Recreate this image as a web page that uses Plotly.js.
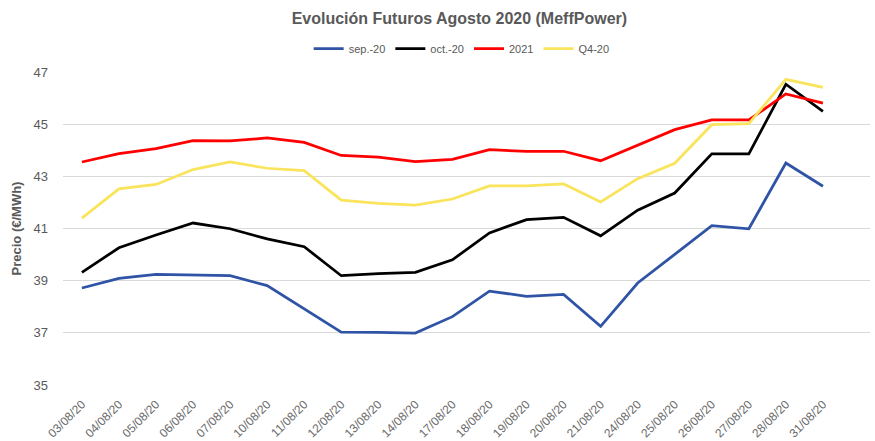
<!DOCTYPE html>
<html>
<head>
<meta charset="utf-8">
<script src="https://cdn.plot.ly/plotly-3.0.1.min.js"></script>
<style>html,body{margin:0;padding:0;background:#fff}#chart{width:875px;height:441px}</style>
</head>
<body>
<div id="chart"></div>
<script>
const fechas = ["03/08/20","04/08/20","05/08/20","06/08/20","07/08/20","10/08/20","11/08/20","12/08/20","13/08/20","14/08/20","17/08/20","18/08/20","19/08/20","20/08/20","21/08/20","24/08/20","25/08/20","26/08/20","27/08/20","28/08/20","31/08/20"];
const sep20 = [38.72,39.09,39.24,39.22,39.19,38.81,37.91,37.03,37.02,36.99,37.62,38.60,38.40,38.47,37.25,38.91,40.01,41.11,40.99,43.51,42.62];
const oct20 = [39.32,40.26,40.75,41.21,40.99,40.60,40.30,39.19,39.27,39.32,39.80,40.83,41.34,41.43,40.72,41.70,42.36,43.86,43.86,46.53,45.49];
const y2021 = [43.55,43.87,44.06,44.37,44.36,44.47,44.30,43.80,43.74,43.56,43.65,44.02,43.96,43.96,43.60,44.21,44.79,45.16,45.16,46.16,45.81];
const q420  = [41.40,42.52,42.69,43.26,43.55,43.31,43.22,42.09,41.96,41.90,42.13,42.63,42.63,42.71,42.02,42.91,43.50,44.98,45.02,46.72,46.41];
const nombres = ["sep.-20","oct.-20","2021","Q4-20"];
const yTicks = [35,37,39,41,43,45,47];

const FONT = "'Liberation Sans', Arial, sans-serif";
const colores = ["#2F54A5","#000000","#FF0000","#F9E45B"];
const series = [sep20, oct20, y2021, q420];
const data = series.map((s,i)=>({
  x: fechas, y: s, name: nombres[i], type:'scatter', mode:'lines',
  line:{color:colores[i], width:2.75}
}));

const layout = {
  width:875, height:441,
  margin:{l:63, r:5, t:72, b:56},
  paper_bgcolor:'#fff', plot_bgcolor:'#fff',
  font:{family:FONT, color:'#595959'},
  title:{text:'<b>Evolución Futuros Agosto 2020 (MeffPower)</b>', x:0.525, xanchor:'center', y:0.958, yanchor:'middle', font:{size:16, color:'#595959', family:FONT}},
  showlegend:true,
  legend:{orientation:'h', x:0.494, xref:'paper', xanchor:'center', y:1.075, yanchor:'middle', font:{size:11, color:'#595959', family:FONT}, itemwidth:30, tracegroupgap:0},
  xaxis:{type:'category', range:[-0.51, 21.27], tickangle:-45, showgrid:false, zeroline:false, showline:false, ticks:'', ticklabelstandoff:9, tickfont:{size:12, color:'#6a6a6a', family:FONT}, fixedrange:true},
  yaxis:{range:[35,47], tickvals:yTicks, ticktext:yTicks.map(String), showgrid:true, gridcolor:'#D9D9D9', gridwidth:1, zeroline:false, showline:false, ticks:'', ticklabelstandoff:14, tickfont:{size:13, color:'#595959', family:FONT},
    title:{text:'<b>Precio (€/MWh)</b>', standoff:8, font:{size:13, color:'#595959', family:FONT}}}
};
Plotly.newPlot('chart', data, layout, {displayModeBar:false, staticPlot:true});
</script>
</body>
</html>
